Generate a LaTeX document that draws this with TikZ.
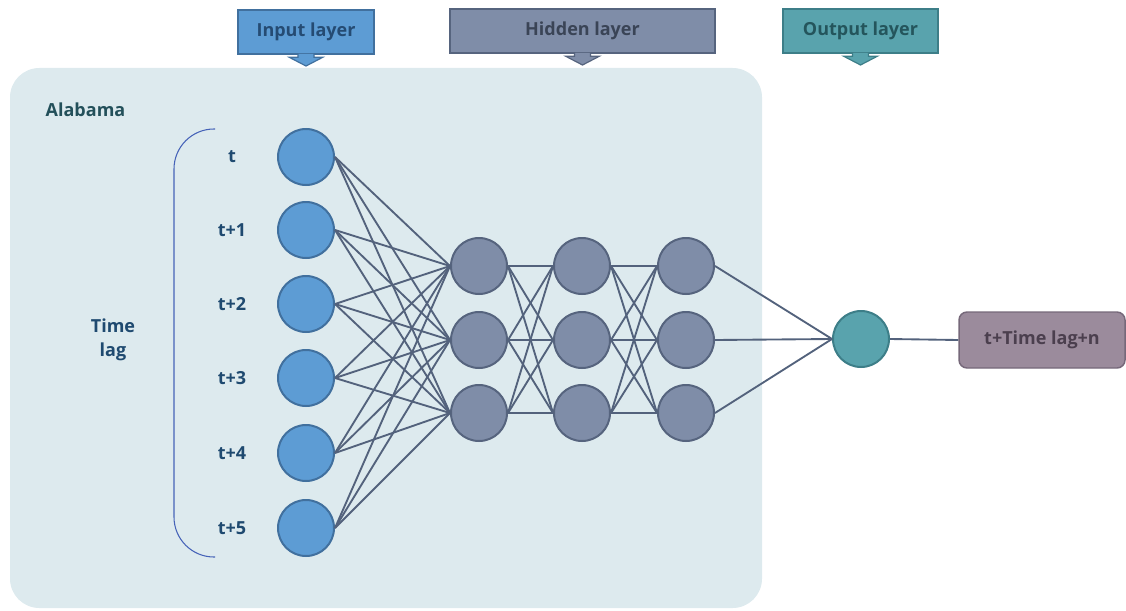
\documentclass[tikz,border=0pt]{standalone}
\usepackage{fontspec}
\setmainfont{Open Sans}
\definecolor{panelbg}{HTML}{DDEAEE}
\definecolor{inFill}{HTML}{5D9CD4}
\definecolor{inLine}{HTML}{41709E}
\definecolor{inText}{HTML}{254B73}
\definecolor{hidFill}{HTML}{7F8DA8}
\definecolor{hidLine}{HTML}{56647E}
\definecolor{hidText}{HTML}{3A4456}
\definecolor{outFill}{HTML}{59A3AD}
\definecolor{outLine}{HTML}{3D7E88}
\definecolor{outText}{HTML}{24555C}
\definecolor{edgeCol}{HTML}{53627C}
\definecolor{resFill}{HTML}{9B8B9C}
\definecolor{resLine}{HTML}{76687A}
\definecolor{resText}{HTML}{4B3F4E}
\definecolor{tagText}{HTML}{1F4A70}
\definecolor{stateText}{HTML}{23505A}
\definecolor{braceCol}{HTML}{4663B8}
\begin{document}
\begin{tikzpicture}[x=0.75pt,y=-0.75pt,
  lbl/.style={font=\fontsize{13.5}{18}\selectfont\bfseries},
  header/.style={lbl, draw, line width=1.1pt, minimum height=33pt, inner sep=0pt, outer sep=0pt},
  notch/.style={line width=0.9pt},
  neuron/.style={circle, line width=1.5pt, minimum size=42pt, inner sep=0pt},
  innode/.style={neuron, fill=inFill, draw=inLine},
  hidnode/.style={neuron, fill=hidFill, draw=hidLine},
  outnode/.style={neuron, fill=outFill, draw=outLine},
  edge/.style={draw=edgeCol, line width=1.4pt},
  tag/.style={lbl, text=tagText}
]
\useasboundingbox (0,0) rectangle (1126,610);

% background panel for the state
\fill[panelbg, rounded corners=22pt] (10,68) rectangle (762,608);

% layer headers with their down notches
\node[header, fill=inFill, draw=inLine, text=inText, minimum width=102pt] (hin) at (306,32) {Input layer};
\node[header, fill=hidFill, draw=hidLine, text=hidText, minimum width=198.75pt] (hhid) at (582.5,31) {Hidden layer};
\node[header, fill=outFill, draw=outLine, text=outText, minimum width=116.25pt] (hout) at (860.5,31) {Output layer};
\foreach \h/\f/\l in {hin/inFill/inLine, hhid/hidFill/hidLine, hout/outFill/outLine}{
  \filldraw[notch, fill=\f, draw=\l] ([xshift=-6pt]\h.south) -- ++(0,-2.5pt) -- ++(-6.5pt,0)
    -- ([yshift=-9pt]\h.south) -- ([xshift=12.5pt,yshift=-2.5pt]\h.south) -- ++(-6.5pt,0) -- ++(0,2.5pt);
}

% state name and time-lag bracket
\node[lbl, text=stateText, anchor=west] (state) at (41,110) {Alabama};
\draw[braceCol, line width=0.8pt, rounded corners=30pt] (215,129) -- (174,129) -- (174,557) -- (215,557);
\node[tag, align=center] (lag) at (113,340) {Time\\lag};

% input neurons and their time labels
\foreach \i/\y/\t in {1/157/t, 2/230/t+1, 3/304/t+2, 4/378/t+3, 5/453/t+4, 6/528/t+5}{
  \node[innode] (i\i) at (306,\y) {};
  \node[tag] (l\i) at (232,\y) {\t};
}

% hidden neurons
\foreach \c/\x in {a/479, b/582, c/686}{
  \foreach \j/\y in {1/266, 2/340, 3/413}{
    \node[hidnode] (\c\j) at (\x,\y) {};
  }
}

% output neuron and result box
\node[outnode] (o) at (861,339) {};
\node[lbl, draw=resLine, fill=resFill, text=resText, line width=1.1pt, rounded corners=6pt,
  minimum width=124.5pt, minimum height=42pt, inner sep=0pt] (res) at (1042,340) {t+Time lag+n};

% connections
\foreach \i in {1,...,6}{
  \foreach \j in {1,2,3}{
    \draw[edge] (i\i.east) -- (a\j.west);
  }
}
\foreach \j in {1,2,3}{
  \foreach \k in {1,2,3}{
    \draw[edge] (a\j.east) -- (b\k.west);
    \draw[edge] (b\j.east) -- (c\k.west);
  }
  \draw[edge] (c\j.east) -- (o.west);
}
\draw[edge] (o.east) -- (res.west);
\end{tikzpicture}
\end{document}
